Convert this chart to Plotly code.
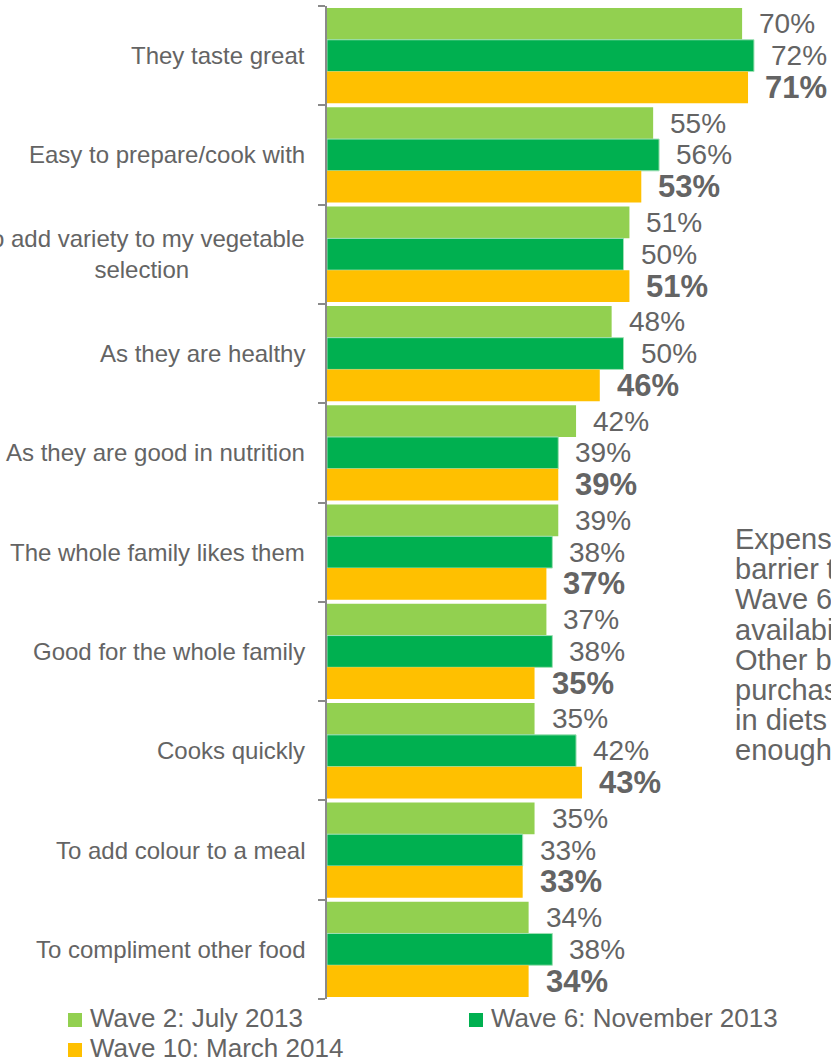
import plotly.graph_objects as go

# Reasons for buying pulses, share of respondents per survey wave
categories = [
    "They taste great",
    "Easy to prepare/cook with",
    "To add variety to my vegetable<br>selection",
    "As they are healthy",
    "As they are good in nutrition",
    "The whole family likes them",
    "Good for the whole family",
    "Cooks quickly",
    "To add colour to a meal",
    "To compliment other food",
]
wave2 = [70, 55, 51, 48, 42, 39, 37, 35, 35, 34]
wave6 = [72, 56, 50, 50, 39, 38, 38, 42, 33, 38]
wave10 = [71, 53, 51, 46, 39, 37, 35, 43, 33, 34]

series_names = ["Wave 2: July 2013", "Wave 6: November 2013", "Wave 10: March 2014"]
series_values = [wave2, wave6, wave10]
series_colors = ["#92D050", "#00B050", "#FFC000"]

side_note = [
    "Expensive price remains the main",
    "barrier to purchasing pulses. In",
    "Wave 6 lack of",
    "availability was also mentioned.",
    "Other barriers include not",
    "purchasing them, not using them",
    "in diets and not knowing",
    "enough about them.",
]

W, H = 831, 1062
M_L, M_R, M_T, M_B = 327, 0, 6, 63
PW, PH = W - M_L - M_R, H - M_T - M_B
TEXT = "#646464"
FONT = "Liberation Sans, Arial, sans-serif"
BARGAP = 0.04


def px_x(p):
    return (p - M_L) / PW


def px_y(p):
    return (H - M_B - p) / PH


pos = list(range(len(categories)))

fig = go.Figure()
for j, (name, vals, col) in enumerate(zip(series_names, series_values, series_colors)):
    line = dict(width=1, color="#9fe0b4") if j == 1 else dict(width=0)
    fig.add_trace(go.Bar(
        y=pos, x=vals, name=name, orientation="h",
        marker=dict(color=col, line=line), showlegend=False,
    ))

annotations = []
slot = (1 - BARGAP) / len(series_values)
for j, vals in enumerate(series_values):
    bold = j == len(series_values) - 1
    for i, v in enumerate(vals):
        annotations.append(dict(
            x=v, y=i + (j - 1) * slot, xref="x", yref="y",
            text=f"<b>{v}%</b>" if bold else f"{v}%",
            showarrow=False, xanchor="left", yanchor="middle", xshift=15,
            font=dict(size=31 if bold else 28, color=TEXT, family=FONT),
        ))

# category labels, right-aligned to the axis with centred wrapped lines
for i, c in enumerate(categories):
    annotations.append(dict(
        x=px_x(307), y=i, xref="paper", yref="y", text=c, showarrow=False,
        xanchor="right", yanchor="middle", align="center",
        font=dict(size=24, color=TEXT, family=FONT),
    ))

# commentary block at the right
for k, line in enumerate(side_note):
    annotations.append(dict(
        x=px_x(733), y=px_y(539 + 30.2 * k), xref="paper", yref="paper",
        text=line, showarrow=False, xanchor="left", yanchor="middle",
        font=dict(size=29, color=TEXT, family=FONT),
    ))

# legend
shapes = []
legend_pos = [(68, 1020), (469, 1020), (68, 1050)]
for (lx, ly), name, col in zip(legend_pos, series_names, series_colors):
    shapes.append(dict(
        type="rect", xref="paper", yref="paper",
        x0=px_x(lx), x1=px_x(lx + 14), y0=px_y(ly - 7), y1=px_y(ly + 7),
        fillcolor=col, line=dict(width=0),
    ))
    annotations.append(dict(
        x=px_x(lx + 20), y=px_y(ly - 2), xref="paper", yref="paper",
        text=name, showarrow=False, xanchor="left", yanchor="middle",
        font=dict(size=26, color=TEXT, family=FONT),
    ))

fig.update_layout(
    width=W, height=H,
    margin=dict(l=M_L, r=M_R, t=M_T, b=M_B, pad=0),
    paper_bgcolor="white", plot_bgcolor="white",
    barmode="group", bargap=BARGAP, bargroupgap=0,
    annotations=annotations, shapes=shapes,
    xaxis=dict(range=[0, PW / 5.93], visible=False, fixedrange=True),
    yaxis=dict(
        range=[len(categories) - 0.5, -0.5],
        tickmode="array", tickvals=[k - 0.5 for k in range(len(categories) + 1)],
        showticklabels=False, ticks="outside", ticklen=7, tickwidth=2,
        tickcolor="#8a8a8a", showline=True, linecolor="#8a8a8a", linewidth=2,
        showgrid=False, zeroline=False, fixedrange=True,
    ),
    font=dict(family=FONT, color=TEXT),
)

fig.write_html("out.html")
